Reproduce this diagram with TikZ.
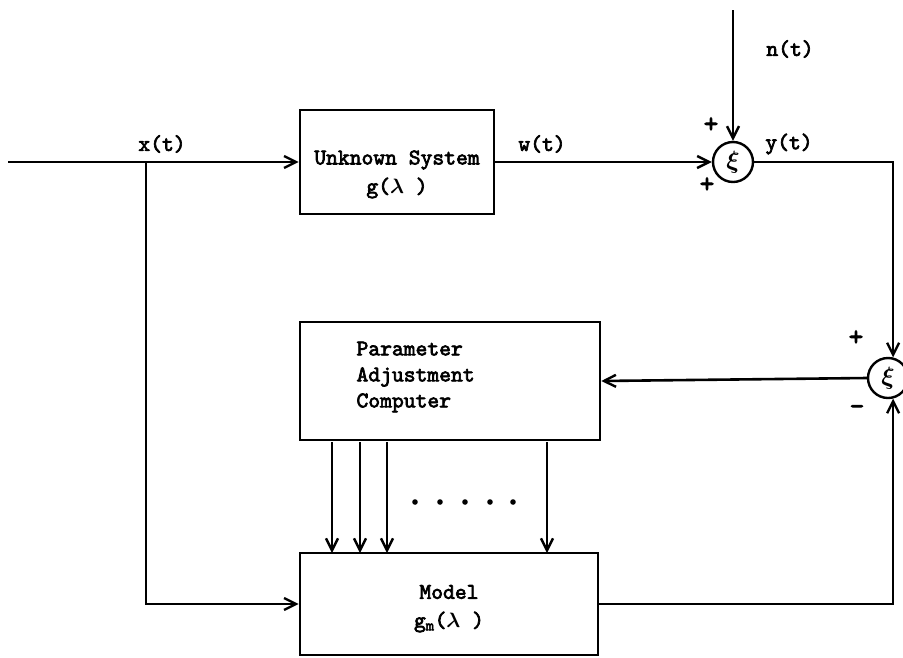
\documentclass[tikz,border=0pt]{standalone}
\usepackage{fontspec}
\usepackage{amsmath,amssymb}
\newfontfamily\tyf{lmmono10-regular}[Extension=.otf,FakeBold=3]
\usetikzlibrary{arrows.meta}
\begin{document}
\begin{tikzpicture}[x=1pt,y=-1pt,
  every node/.style={font=\fontsize{22.5}{26}\selectfont\tyf},
  blk/.style={draw,line width=2.6pt,inner sep=0pt},
  sumc/.style={draw,circle,line width=2.4pt,minimum size=40pt,inner sep=0pt},
  arr/.style={line width=2.6pt,-{Straight Barb[length=12pt,width=12pt,line width=2.4pt]}},
  lbl/.style={inner sep=1pt},
  sgn/.style={inner sep=1pt,font=\fontsize{28}{28}\selectfont\tyf}]
\useasboundingbox (0,0) rectangle (903,657);
% blocks
\node[blk,minimum width=194pt,minimum height=104pt] (us) at (397,162) {};
\node at (397,160) {Unknown System};
\node at (397,188) {g($\boldsymbol{\lambda}$ )};
\node[blk,minimum width=300pt,minimum height=118pt] (pac) at (450,381) {};
\node[align=left,anchor=west] at (353,377) {Parameter\\Adjustment\\Computer};
\node[blk,minimum width=298pt,minimum height=102pt] (mod) at (449,604) {};
\node at (449,592) {Model};
\node at (449,622) {g$_{\text{\tyf m}}$($\boldsymbol{\lambda}$ )};
% summers
\node[sumc] (s1) at (733,162) {\fontsize{26}{26}\selectfont$\boldsymbol{\xi}$};
\node[sumc] (s2) at (888,378) {\fontsize{26}{26}\selectfont$\boldsymbol{\xi}$};
% coordinates
\coordinate (in) at (8,162);
\coordinate (br) at (146,162);
\coordinate (ntop) at (733,10);
% wires
\draw[arr] (in) -- (us.west);
\draw[arr] (br) |- (mod.west);
\draw[arr] (us.east) -- (s1.west);
\draw[arr] (ntop) -- (s1.north);
\draw[arr] (s1.east) -| (s2.76);
\draw[arr] (mod.east) -| (s2.-76);
\draw[arr] (s2.west) -- (pac.east);
\foreach \xx in {332,360,387,547}
  \draw[arr] (\xx,442) -- (\xx,553);
\foreach \xx in {415,440,465,490,513}
  \fill (\xx,502) circle (2.8pt);
% labels
\node[lbl] at (162,144) {x(t)};
\node[lbl] at (542,144) {w(t)};
\node[lbl] at (790,49) {n(t)};
\node[lbl] at (789,144) {y(t)};
\node[sgn] at (711,125) {+};
\node[sgn] at (707,185) {+};
\node[sgn] at (856,338) {+};
\node[sgn] at (857,410) {-};
\end{tikzpicture}
\end{document}
